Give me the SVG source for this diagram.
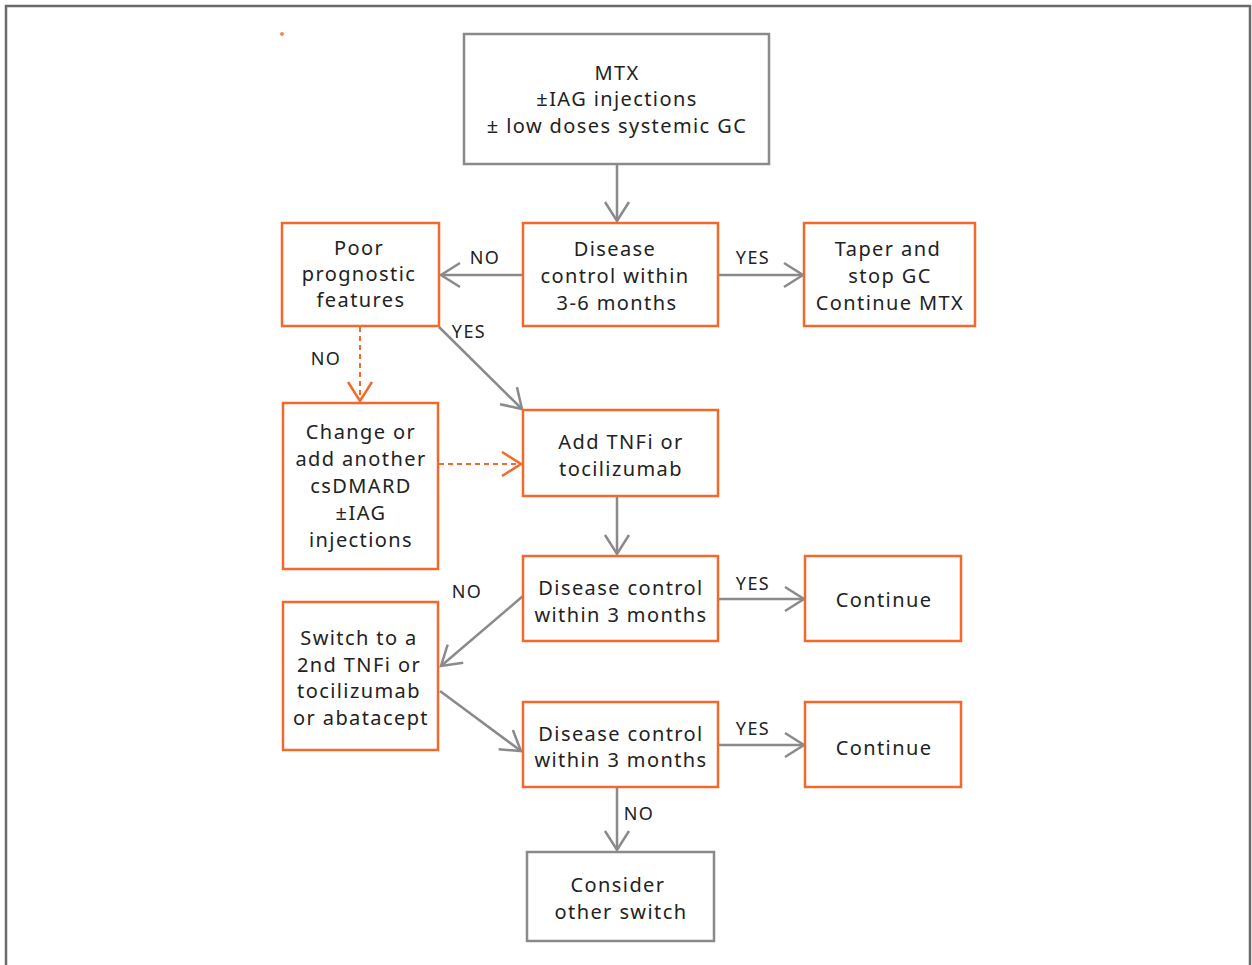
<svg xmlns="http://www.w3.org/2000/svg" width="1252" height="965" viewBox="0 0 1252 965">
<defs>
<style>
.g{fill:#fff;stroke:#8a8a8c;stroke-width:2.5}
.o{fill:#fff;stroke:#f26a2b;stroke-width:2.5}
.t{font-family:"Noto Sans","Liberation Sans",sans-serif;font-size:20px;letter-spacing:1.4px;fill:#222;text-anchor:middle}
.l{font-family:"Noto Sans","Liberation Sans",sans-serif;font-size:18px;letter-spacing:1.4px;fill:#222;text-anchor:middle}
.c{fill:none;stroke:#8a8a8c;stroke-width:2.5}
.d{fill:none;stroke:#f26a2b;stroke-width:2;stroke-dasharray:5 4}
</style>
<marker id="ag" markerUnits="userSpaceOnUse" markerWidth="44" markerHeight="44" viewBox="-22 -22 44 44" refX="0" refY="0" orient="auto">
<path d="M-19,-12 L0,0 L-19,12" fill="none" stroke="#8a8a8c" stroke-width="2.5"/>
</marker>
<marker id="ao" markerUnits="userSpaceOnUse" markerWidth="44" markerHeight="44" viewBox="-22 -22 44 44" refX="0" refY="0" orient="auto">
<path d="M-19,-12 L0,0 L-19,12" fill="none" stroke="#f26a2b" stroke-width="2.5"/>
</marker>
</defs>
<rect x="0" y="0" width="1252" height="965" fill="#fff"/>
<rect x="6" y="6" width="1244" height="980" fill="none" stroke="#6b6b6b" stroke-width="2.5"/>
<circle cx="282" cy="34" r="2" fill="#f08a5a"/>

<g id="connectors">
<line class="c" x1="617" y1="165" x2="617" y2="221" marker-end="url(#ag)"/>
<line class="c" x1="523" y1="275" x2="441" y2="275" marker-end="url(#ag)"/>
<line class="c" x1="718" y1="275" x2="803" y2="275" marker-end="url(#ag)"/>
<line class="d" x1="360" y1="327" x2="360" y2="401" marker-end="url(#ao)"/>
<line class="c" x1="439" y1="327" x2="522" y2="409" marker-end="url(#ag)"/>
<line class="d" x1="439" y1="464" x2="521" y2="464" marker-end="url(#ao)"/>
<line class="c" x1="617" y1="497" x2="617" y2="554" marker-end="url(#ag)"/>
<line class="c" x1="718" y1="599" x2="804" y2="599" marker-end="url(#ag)"/>
<line class="c" x1="523" y1="596" x2="441" y2="666" marker-end="url(#ag)"/>
<line class="c" x1="440" y1="691" x2="521" y2="751" marker-end="url(#ag)"/>
<line class="c" x1="718" y1="745" x2="804" y2="745" marker-end="url(#ag)"/>
<line class="c" x1="617" y1="788" x2="617" y2="850" marker-end="url(#ag)"/>
<text class="l" x="485" y="264">NO</text>
<text class="l" x="753" y="264">YES</text>
<text class="l" x="326" y="365">NO</text>
<text class="l" x="469" y="338">YES</text>
<text class="l" x="753" y="590">YES</text>
<text class="l" x="467" y="598">NO</text>
<text class="l" x="753" y="735">YES</text>
<text class="l" x="639" y="820">NO</text>
</g>

<g id="n-mtx">
<rect class="g" x="464" y="34" width="305" height="130"/>
<text class="t" x="617" y="80">MTX</text>
<text class="t" x="617" y="106">±IAG injections</text>
<text class="t" x="617" y="133">± low doses systemic GC</text>
</g>
<g id="n-dc36">
<rect class="o" x="523" y="223" width="195" height="103"/>
<text class="t" x="615" y="256">Disease</text>
<text class="t" x="615" y="283">control within</text>
<text class="t" x="617" y="310">3-6 months</text>
</g>
<g id="n-poor">
<rect class="o" x="282" y="223" width="157" height="103"/>
<text class="t" x="359" y="255">Poor</text>
<text class="t" x="359" y="281">prognostic</text>
<text class="t" x="361" y="307">features</text>
</g>
<g id="n-taper">
<rect class="o" x="804" y="223" width="171" height="103"/>
<text class="t" x="888" y="256">Taper and</text>
<text class="t" x="890" y="283">stop GC</text>
<text class="t" x="890" y="310">Continue MTX</text>
</g>
<g id="n-change">
<rect class="o" x="283" y="403" width="155" height="166"/>
<text class="t" x="361" y="439">Change or</text>
<text class="t" x="361" y="466">add another</text>
<text class="t" x="361" y="493">csDMARD</text>
<text class="t" x="361" y="520">±IAG</text>
<text class="t" x="361" y="547">injections</text>
</g>
<g id="n-add">
<rect class="o" x="523" y="410" width="195" height="86"/>
<text class="t" x="621" y="449">Add TNFi or</text>
<text class="t" x="621" y="476">tocilizumab</text>
</g>
<g id="n-dc3a">
<rect class="o" x="523" y="556" width="195" height="85"/>
<text class="t" x="621" y="595">Disease control</text>
<text class="t" x="621" y="622">within 3 months</text>
</g>
<g id="n-cont1">
<rect class="o" x="805" y="556" width="156" height="85"/>
<text class="t" x="884" y="607">Continue</text>
</g>
<g id="n-switch">
<rect class="o" x="283" y="602" width="155" height="148"/>
<text class="t" x="359" y="645">Switch to a</text>
<text class="t" x="359" y="672">2nd TNFi or</text>
<text class="t" x="359" y="698">tocilizumab</text>
<text class="t" x="361" y="725">or abatacept</text>
</g>
<g id="n-dc3b">
<rect class="o" x="523" y="702" width="195" height="85"/>
<text class="t" x="621" y="741">Disease control</text>
<text class="t" x="621" y="767">within 3 months</text>
</g>
<g id="n-cont2">
<rect class="o" x="805" y="702" width="156" height="85"/>
<text class="t" x="884" y="755">Continue</text>
</g>
<g id="n-consider">
<rect class="g" x="527" y="852" width="187" height="89"/>
<text class="t" x="618" y="892">Consider</text>
<text class="t" x="621" y="919">other switch</text>
</g>
</svg>
